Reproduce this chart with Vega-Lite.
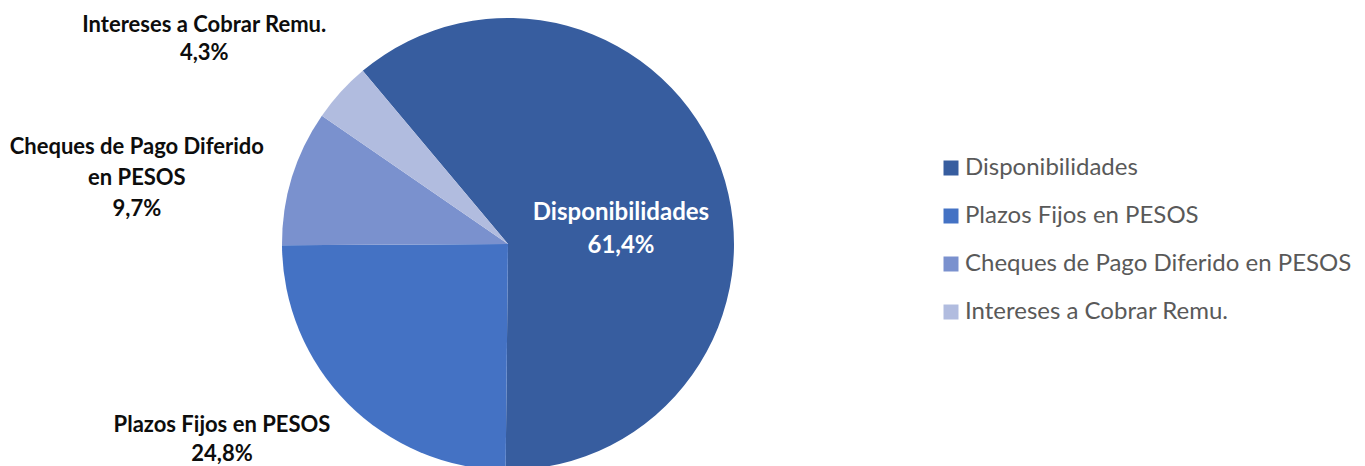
{
  "$schema": "https://vega.github.io/schema/vega-lite/v6.json",
  "autosize": "none",
  "width": 1016,
  "height": 488,
  "padding": {"left": 0, "top": 0, "right": 349, "bottom": 0},
  "background": "white",
  "config": {"view": {"stroke": null}},
  "data": {
    "values": [
      {"categoria": "Disponibilidades", "valor": 61.4, "orden": 1, "etiqueta": "Disponibilidades\n61,4%"},
      {"categoria": "Plazos Fijos en PESOS", "valor": 24.8, "orden": 2, "etiqueta": "Plazos Fijos en PESOS\n24,8%"},
      {"categoria": "Cheques de Pago Diferido en PESOS", "valor": 9.7, "orden": 3, "etiqueta": "Cheques de Pago Diferido\nen PESOS\n9,7%"},
      {"categoria": "Intereses a Cobrar Remu.", "valor": 4.3, "orden": 4, "etiqueta": "Intereses a Cobrar Remu.\n4,3%"}
    ]
  },
  "encoding": {
    "theta": {"field": "valor", "type": "quantitative", "stack": true, "scale": {"range": [-0.6981, 5.5851]}},
    "order": {"field": "orden", "type": "quantitative"}
  },
  "layer": [
    {
      "mark": {"type": "arc", "outerRadius": 226},
      "encoding": {
        "color": {
          "field": "categoria",
          "type": "nominal",
          "sort": ["Disponibilidades", "Plazos Fijos en PESOS", "Cheques de Pago Diferido en PESOS", "Intereses a Cobrar Remu."],
          "scale": {
            "domain": ["Disponibilidades", "Plazos Fijos en PESOS", "Cheques de Pago Diferido en PESOS", "Intereses a Cobrar Remu."],
            "range": ["#375D9F", "#4472C4", "#7A91CE", "#B1BCDF"]
          },
          "legend": {
            "title": null,
            "orient": "none",
            "legendX": 939,
            "legendY": 156,
            "symbolType": "square",
            "symbolSize": 225,
            "symbolStrokeWidth": 0,
            "labelFont": "Lato",
            "labelFontSize": 24,
            "labelColor": "#595959",
            "labelLimit": 500,
            "labelOffset": 2,
            "rowPadding": 24
          }
        }
      }
    },
    {
      "mark": {"type": "text", "font": "Lato", "fontWeight": "bold", "fontSize": 24, "color": "white", "lineBreak": "\n", "lineHeight": 33, "align": "center", "baseline": "middle", "dx": 0, "dy": 9},
      "encoding": {
        "radius": {"value": 120},
        "text": {"condition": {"test": "datum.categoria === 'Disponibilidades'", "field": "etiqueta"}, "value": ""}
      }
    },
    {
      "mark": {"type": "text", "font": "Lato", "fontWeight": "bold", "fontSize": 22, "color": "#0D0D0D", "lineBreak": "\n", "lineHeight": 29, "align": "center", "baseline": "middle", "dx": -45, "dy": -59},
      "encoding": {
        "radius": {"value": 340},
        "text": {"condition": {"test": "datum.categoria === 'Plazos Fijos en PESOS'", "field": "etiqueta"}, "value": ""}
      }
    },
    {
      "mark": {"type": "text", "font": "Lato", "fontWeight": "bold", "fontSize": 22, "color": "#0D0D0D", "lineBreak": "\n", "lineHeight": 31, "align": "center", "baseline": "middle", "dx": -8, "dy": 15},
      "encoding": {
        "radius": {"value": 380},
        "text": {"condition": {"test": "datum.categoria === 'Cheques de Pago Diferido en PESOS'", "field": "etiqueta"}, "value": ""}
      }
    },
    {
      "mark": {"type": "text", "font": "Lato", "fontWeight": "bold", "fontSize": 22, "color": "#0D0D0D", "lineBreak": "\n", "lineHeight": 28, "align": "center", "baseline": "middle", "dx": -30, "dy": 30},
      "encoding": {
        "radius": {"value": 370},
        "text": {"condition": {"test": "datum.categoria === 'Intereses a Cobrar Remu.'", "field": "etiqueta"}, "value": ""}
      }
    }
  ]
}
